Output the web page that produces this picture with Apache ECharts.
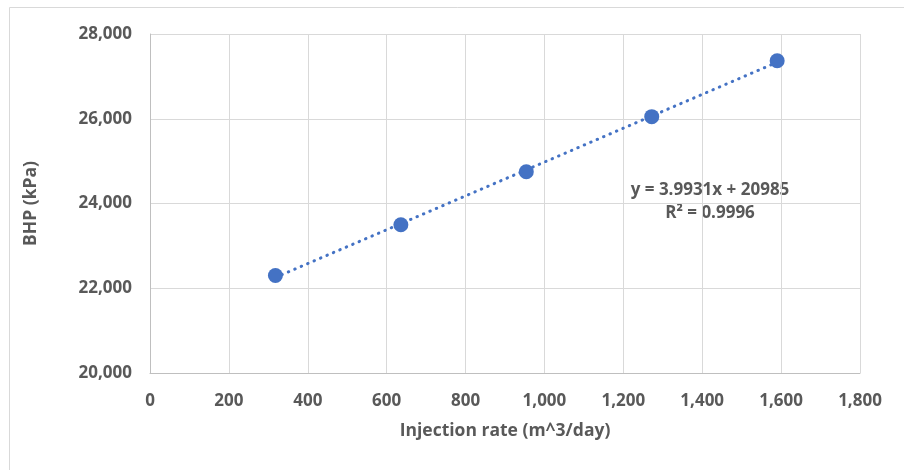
<!DOCTYPE html>
<html>
<head>
<meta charset="utf-8">
<script src="https://cdn.jsdelivr.net/npm/echarts@6/dist/echarts.min.js"></script>
<style>
html,body{margin:0;padding:0;background:#fff;}
#chart{width:904px;height:470px;}
</style>
</head>
<body>
<div id="chart"></div>
<script>
// Data
const injectionRate = [318, 636, 954, 1272, 1590];          // m^3/day
const bhp = [22300, 23500, 24750, 26050, 27370];             // kPa
const trendX = [318, 1590];
const trendY = [22255, 27334];
const equationText = 'y = 3.9931x + 20985';
const r2Text = 'R² = 0.9996';
const xTitle = 'Injection rate (m^3/day)';
const yTitle = 'BHP (kPa)';

const FONT = 'Open Sans';
const TXT = '#595959';
const BLUE = '#4472C4';

const chart = echarts.init(document.getElementById('chart'));
const fmt = v => v.toLocaleString('en-US');

chart.setOption({
  animation: false,
  backgroundColor: '#fff',
  grid: { left: 150, right: 44, top: 34, bottom: 97, containLabel: false },
  xAxis: {
    type: 'value', min: 0, max: 1800, interval: 200,
    name: xTitle, nameLocation: 'middle', nameGap: 49,
    nameTextStyle: { color: TXT, fontFamily: FONT, fontSize: 17.5, fontWeight: 'bold' },
    axisLine: { show: true, lineStyle: { color: '#bfbfbf', width: 1 } },
    axisTick: { show: false },
    axisLabel: { color: TXT, fontFamily: FONT, fontSize: 17, fontWeight: 'bold', margin: 20, formatter: fmt },
    splitLine: { show: true, lineStyle: { color: '#d9d9d9', width: 1 } }
  },
  yAxis: {
    type: 'value', min: 20000, max: 28000, interval: 2000,
    name: yTitle, nameLocation: 'middle', nameGap: 110,
    nameTextStyle: { color: TXT, fontFamily: FONT, fontSize: 17.5, fontWeight: 'bold' },
    axisLine: { show: true, lineStyle: { color: '#bfbfbf', width: 1 } },
    axisTick: { show: false },
    axisLabel: { color: TXT, fontFamily: FONT, fontSize: 17, fontWeight: 'bold', margin: 18, formatter: fmt },
    splitLine: { show: true, lineStyle: { color: '#d9d9d9', width: 1 } }
  },
  series: [
    {
      type: 'line',
      data: trendX.map((x, i) => [x, trendY[i]]),
      symbol: 'none',
      lineStyle: { color: BLUE, width: 3, type: [0.5, 6.5], cap: 'round' },
      z: 2
    },
    {
      type: 'scatter',
      data: injectionRate.map((x, i) => [x, bhp[i]]),
      symbol: 'circle',
      symbolSize: 15,
      itemStyle: { color: BLUE, opacity: 1 },
      z: 3
    }
  ],
  graphic: [
    { type: 'rect', shape: { x: 9.5, y: 7.5, width: 1000, height: 1000 },
      style: { fill: 'none', stroke: '#d9d9d9', lineWidth: 1 }, z: -1 },
    { type: 'text', x: 710, y: 190,
      style: { text: equationText, fill: TXT, font: 'bold 17px "Open Sans"', textAlign: 'center', textVerticalAlign: 'middle' } },
    { type: 'text', x: 710, y: 213,
      style: { text: r2Text, fill: TXT, font: 'bold 17px "Open Sans"', textAlign: 'center', textVerticalAlign: 'middle' } }
  ]
});
</script>
</body>
</html>
